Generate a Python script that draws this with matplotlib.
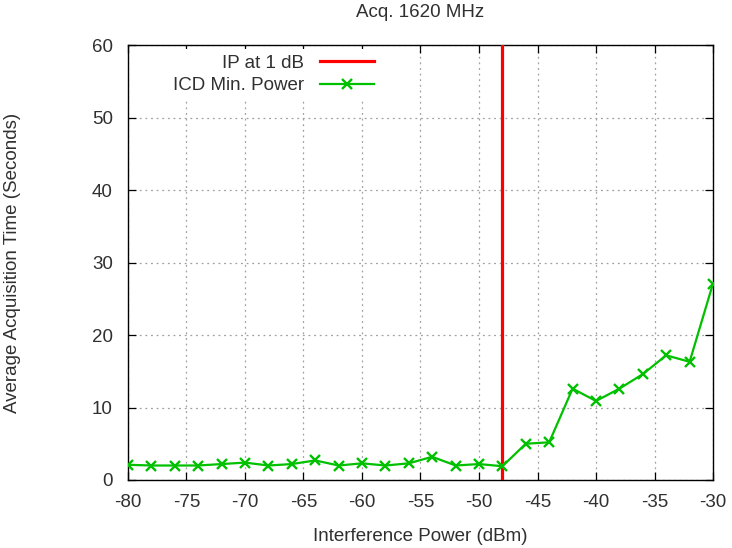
import matplotlib
matplotlib.use("Agg")
import matplotlib.pyplot as plt

plt.rcParams['font.family'] = ['Liberation Sans', 'DejaVu Sans']
plt.rcParams['axes.unicode_minus'] = False

power = [-80, -78, -76, -74, -72, -70, -68, -66, -64, -62, -60, -58, -56,
         -54, -52, -50, -48, -46, -44, -42, -40, -38, -36, -34, -32, -30]
acq_time = [2.1, 2.0, 2.0, 2.0, 2.2, 2.4, 2.0, 2.2, 2.7, 2.0, 2.3, 2.0, 2.3,
            3.2, 2.0, 2.2, 1.9, 5.0, 5.2, 12.6, 10.9, 12.6, 14.6, 17.2, 16.3, 27.1]
ip_1db = -48
xticks = [-80, -75, -70, -65, -60, -55, -50, -45, -40, -35, -30]
yticks = [0, 10, 20, 30, 40, 50, 60]

FS = 13.5
TXT = '#303030'

fig = plt.figure(figsize=(7.32, 5.48), dpi=100)
ax = fig.add_axes([128/732, 68/548, 585/732, 435/548])

ax.axvline(ip_1db, color='#ff0000', lw=2.3, label='IP at 1 dB', zorder=3)
ax.plot(power, acq_time, color='#00c000', lw=1.6, marker='x', ms=7, mew=1.7,
        label='ICD Min. Power', zorder=4)

ax.set_xlim(-80, -30)
ax.set_ylim(0, 60)
ax.set_xticks(xticks)
ax.set_yticks(yticks)
ax.grid(True, color='#a0a0a0', linestyle=(0, (1.5, 3)), lw=0.9)
ax.set_axisbelow(True)
ax.tick_params(direction='in', top=True, right=True, length=6, labelsize=FS,
               width=0.9, labelcolor=TXT)
ax.tick_params(axis='y', pad=11)
ax.tick_params(axis='x', pad=10)
for s in ax.spines.values():
    s.set_linewidth(1.0)
    s.set_color('black')

ax.set_title('Acq. 1620 MHz', fontsize=FS, pad=20, color=TXT)
ax.set_xlabel('Interference Power (dBm)', fontsize=FS, labelpad=12, color=TXT)
ax.set_ylabel('Average Acquisition Time (Seconds)', fontsize=FS, labelpad=51, color=TXT)

leg = ax.legend(loc='upper right', bbox_to_anchor=(380/732, 1 - 49/548),
                bbox_transform=fig.transFigure, markerfirst=False,
                frameon=True, facecolor='white', edgecolor='none', framealpha=1,
                fancybox=False, fontsize=FS, handlelength=2.9, handletextpad=0.85,
                borderaxespad=0, borderpad=0.3, labelspacing=0.3)
for t in leg.get_texts():
    t.set_ha('right')
    t.set_color(TXT)

fig.savefig('out.png', dpi=100)
